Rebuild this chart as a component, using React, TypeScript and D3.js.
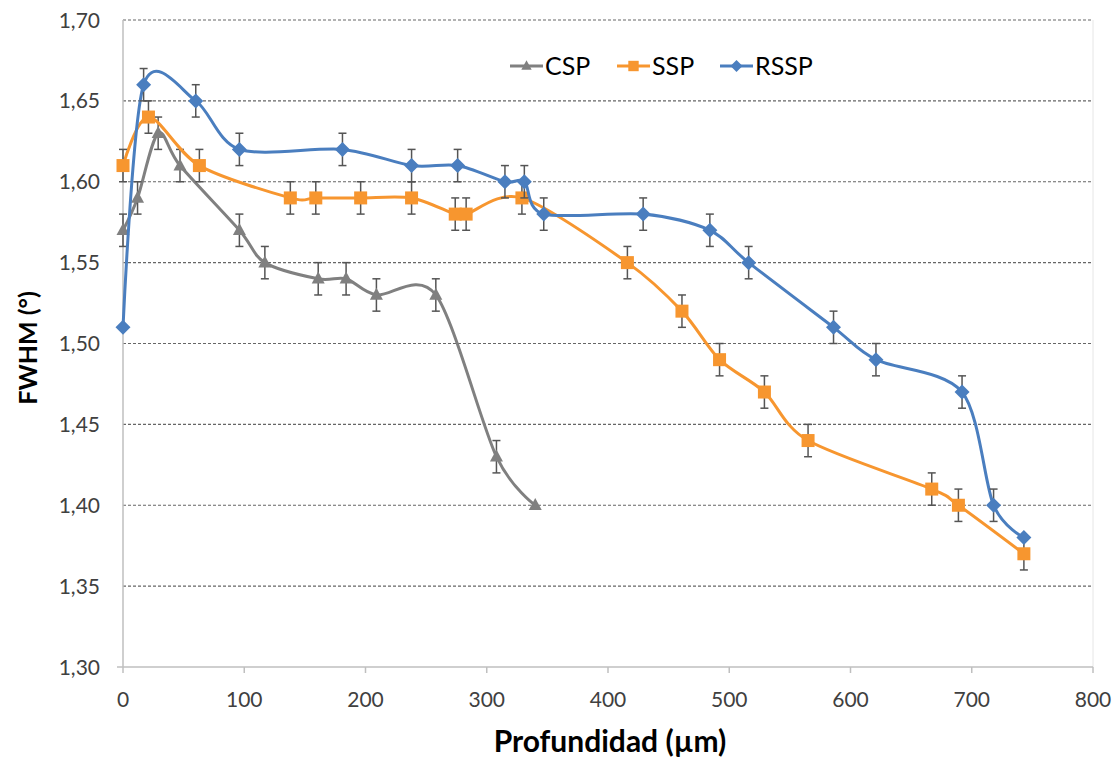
import React from "react";
import * as d3 from "d3";

const cspX = [0, 12, 29, 47, 96, 117, 161, 184, 209, 258, 308, 340];
const cspY = [1.57, 1.59, 1.63, 1.61, 1.57, 1.55, 1.54, 1.54, 1.53, 1.53, 1.43, 1.40];
const cspErr = [0.01, 0.01, 0.01, 0.01, 0.01, 0.01, 0.01, 0.01, 0.01, 0.01, 0.01, 0];

const sspX = [0, 21, 63, 138, 159, 196, 238, 274, 283, 329, 416, 461, 492, 529, 565, 667, 689, 743];
const sspY = [1.61, 1.64, 1.61, 1.59, 1.59, 1.59, 1.59, 1.58, 1.58, 1.59, 1.55, 1.52, 1.49, 1.47, 1.44, 1.41, 1.40, 1.37];
const sspErr = [0.01, 0.01, 0.01, 0.01, 0.01, 0.01, 0.01, 0.01, 0.01, 0.01, 0.01, 0.01, 0.01, 0.01, 0.01, 0.01, 0.01, 0.01];

const rsspX = [0, 17, 60, 96, 181, 238, 276, 315, 331, 347, 429, 484, 516, 586, 621, 692, 718, 743];
const rsspY = [1.51, 1.66, 1.65, 1.62, 1.62, 1.61, 1.61, 1.60, 1.60, 1.58, 1.58, 1.57, 1.55, 1.51, 1.49, 1.47, 1.40, 1.38];
const rsspErr = [0, 0.01, 0.01, 0.01, 0.01, 0.01, 0.01, 0.01, 0.01, 0.01, 0.01, 0.01, 0.01, 0.01, 0.01, 0.01, 0.01, 0];

const xTicks = [0, 100, 200, 300, 400, 500, 600, 700, 800];
const yTicks = [1.3, 1.35, 1.4, 1.45, 1.5, 1.55, 1.6, 1.65, 1.7];
const seriesNames = ["CSP", "SSP", "RSSP"];
const seriesColors = ["#808080", "#F7962F", "#4A7EBF"];

const W = 1118, H = 759;
const left = 123, right = 1093, top = 20, bottom = 667;

export default function App() {
  const x = d3.scaleLinear().domain([0, 800]).range([left, right]);
  const y = d3.scaleLinear().domain([1.3, 1.7]).range([bottom, top]);
  const line = d3.line<[number, number]>()
    .x(d => x(d[0])).y(d => y(d[1]))
    .curve(d3.curveCardinal.tension(0.1));

  const series = [
    { xs: cspX, ys: cspY, err: cspErr, shape: "tri" },
    { xs: sspX, ys: sspY, err: sspErr, shape: "sq" },
    { xs: rsspX, ys: rsspY, err: rsspErr, shape: "dia" },
  ];

  const marker = (shape: string, cx: number, cy: number, color: string, s = 1) => {
    if (shape === "tri") {
      const h = 12 * s, w = 13 * s;
      return <path d={`M${cx},${cy - h * 0.6} L${cx + w / 2},${cy + h * 0.4} L${cx - w / 2},${cy + h * 0.4} Z`} fill={color} />;
    }
    if (shape === "sq") {
      const a = 13 * s;
      return <rect x={cx - a / 2} y={cy - a / 2} width={a} height={a} fill={color} />;
    }
    const r = 7.5 * s;
    return <path d={`M${cx},${cy - r} L${cx + r},${cy} L${cx},${cy + r} L${cx - r},${cy} Z`} fill={color} />;
  };

  const fmt = (v: number) => v.toFixed(2).replace(".", ",");
  const font = "Lato, 'Open Sans', sans-serif";
  const legendX = [510, 617, 720];

  return (
    <svg width={W} height={H} style={{ position: "absolute", left: 0, top: 0, background: "#fff" }} fontFamily={font}>
      {/* grid */}
      {yTicks.filter(t => t > 1.3).map(t => (
        <line key={t} x1={left} x2={right} y1={y(t)} y2={y(t)} stroke="#666" strokeWidth={1.2} strokeDasharray="3,2" />
      ))}
      <line x1={right} x2={right} y1={top} y2={bottom} stroke="#e6e6e6" strokeWidth={1} />
      {/* axes */}
      <line x1={left} x2={left} y1={top} y2={bottom} stroke="#bfbfbf" strokeWidth={1.5} />
      <line x1={left - 6} x2={right} y1={bottom} y2={bottom} stroke="#bfbfbf" strokeWidth={1.5} />
      {xTicks.map(t => (
        <line key={t} x1={x(t)} x2={x(t)} y1={bottom} y2={bottom + 6} stroke="#bfbfbf" strokeWidth={1.5} />
      ))}
      {xTicks.map(t => (
        <text key={t} x={x(t)} y={bottom + 40} textAnchor="middle" fontSize={21} fill="#404040">{t}</text>
      ))}
      {yTicks.map(t => (
        <text key={t} x={100} y={y(t) + 7.5} textAnchor="end" fontSize={21} fill="#404040">{fmt(t)}</text>
      ))}
      {/* series */}
      {series.map((s, i) => {
        const pts: [number, number][] = s.xs.map((v, j) => [v, s.ys[j]]);
        const color = seriesColors[i];
        return (
          <g key={i}>
            <path d={line(pts) || ""} fill="none" stroke={color} strokeWidth={3} />
            {pts.map((p, j) => s.err[j] > 0 ? (
              <g key={"e" + j} stroke="#555" strokeWidth={1.5}>
                <line x1={x(p[0])} x2={x(p[0])} y1={y(p[1] + s.err[j])} y2={y(p[1] - s.err[j])} />
                <line x1={x(p[0]) - 4} x2={x(p[0]) + 4} y1={y(p[1] + s.err[j])} y2={y(p[1] + s.err[j])} />
                <line x1={x(p[0]) - 4} x2={x(p[0]) + 4} y1={y(p[1] - s.err[j])} y2={y(p[1] - s.err[j])} />
              </g>
            ) : null)}
            {pts.map((p, j) => <g key={"m" + j}>{marker(s.shape, x(p[0]), y(p[1]), color)}</g>)}
          </g>
        );
      })}
      {/* legend */}
      {seriesNames.map((n, i) => {
        const lx = legendX[i];
        return (
          <g key={n}>
            <line x1={lx} x2={lx + 33} y1={66} y2={66} stroke={seriesColors[i]} strokeWidth={3} />
            {marker(series[i].shape, lx + 16.5, 66, seriesColors[i], 0.8)}
            <text x={lx + 35} y={75} fontSize={25} fill="#000">{n}</text>
          </g>
        );
      })}
      {/* axis titles */}
      <text x={610} y={752} textAnchor="middle" fontSize={30} fontWeight="bold" fill="#000">Profundidad (µm)</text>
      <text transform={`translate(37,348) rotate(-90)`} textAnchor="middle" fontSize={25} fontWeight="bold" fill="#000">FWHM (°)</text>
    </svg>
  );
}
